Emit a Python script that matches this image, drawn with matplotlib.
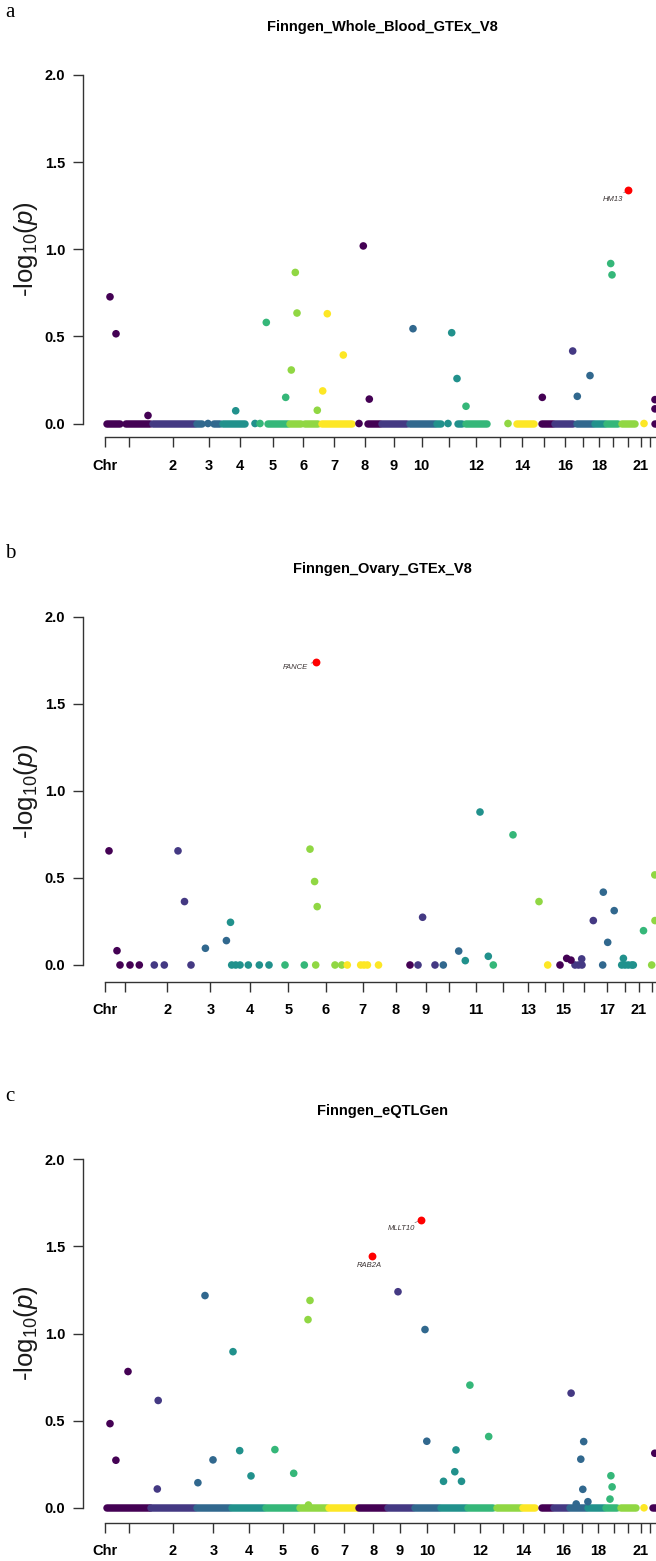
import matplotlib
matplotlib.use('Agg')
import matplotlib.pyplot as plt

plt.rcParams['font.family'] = ['Liberation Sans', 'DejaVu Sans']
plt.rcParams['mathtext.fontset'] = 'custom'
plt.rcParams['mathtext.rm'] = 'Liberation Sans'
plt.rcParams['mathtext.it'] = 'Liberation Sans:italic'

# x positions are cumulative plotting positions along the genome
chr_origin = 105

# ---------------- panel a : Finngen_Whole_Blood_GTEx_V8
a_chroms = list(range(1, 23))
a_ticks = [129, 173, 208.7, 240, 273, 303.3, 334, 364.8, 394, 421.7, 449.3,
           475.7, 500, 522.3, 544.3, 565, 582.7, 599, 613.3, 627.7, 641, 650.3]
a_labels = ['', '2', '3', '4', '5', '6', '7', '8', '9', '10', '', '12', '',
            '14', '', '16', '', '18', '', '', '21', '']
a_run_chr = [1, 1, 2, 3, 3, 4, 5, 6, 6, 7, 8, 9, 10, 11, 11, 12, 14, 15, 16,
             17, 18, 19, 20, 22]
a_run_from = [107, 126, 153, 197, 214, 223, 268, 290, 305, 322, 368, 382, 410,
              437, 458, 466, 517, 542, 555, 577, 595, 607, 622, 655]
a_run_to = [120, 150, 195, 202, 220, 245, 288, 301, 318, 352, 380, 407, 435,
            441, 462, 487, 534, 553, 573, 593, 605, 618, 635, 665]
a_pt_chr = [3, 4, 5, 8, 11, 13, 21,
            1, 1, 1, 4, 5, 5, 6, 6, 6, 6, 7, 7, 7, 8, 8, 10, 11, 11, 12, 15,
            16, 17, 17, 19, 19, 22, 22]
a_pt_pos = [208, 255, 260, 359, 448, 508, 644,
            110, 116, 148, 235.7, 266.3, 285.7, 291.3, 295.3, 297, 317.3,
            322.7, 327.3, 343.3, 363.3, 369.3, 413, 451.7, 457, 466, 542.3,
            572.7, 577.3, 590, 610.7, 612, 655, 655]
a_pt_val = [0, 0, 0, 0, 0, 0, 0,
            0.727, 0.515, 0.046, 0.073, 0.58, 0.15, 0.307, 0.867, 0.634, 0.076,
            0.187, 0.63, 0.393, 1.019, 0.14, 0.544, 0.521, 0.258, 0.099, 0.15,
            0.416, 0.156, 0.275, 0.918, 0.853, 0.137, 0.084]
a_lead_gene = ['HM13']
a_lead_pos = [628.3]
a_lead_val = [1.34]

# ---------------- panel b : Finngen_Ovary_GTEx_V8
b_chroms = list(range(1, 19)) + [21, 22]
b_ticks = [124.5, 167.3, 210.3, 250, 288.3, 325.7, 362.7, 396, 425.7, 449.3,
           475.7, 502.7, 527.7, 545, 563.3, 584.3, 606.7, 625, 638.5, 652]
b_labels = ['', '2', '3', '4', '5', '6', '7', '8', '9', '', '11', '', '13', '',
            '15', '', '17', '', '21', '']
b_run_chr = []
b_run_from = []
b_run_to = []
b_pt_chr = [1, 1, 1, 2, 2, 2, 4, 4, 4, 4, 4, 4, 5, 5, 6, 6, 6, 7, 7, 7, 7, 7,
            8, 9, 9, 10, 12, 14, 15, 16, 16, 16, 17, 18, 18, 18, 18, 18, 22,
            1, 1, 2, 2, 3, 3, 4, 6, 6, 6, 9, 10, 11, 11, 11, 12, 13, 15, 15,
            16, 16, 17, 17, 17, 18, 21, 22, 22]
b_pt_pos = [120, 130, 139.3, 154.3, 164.3, 191, 231.7, 235.7, 240, 248.3,
            259.3, 269, 285, 304.3, 315.7, 335, 341.7, 347.3, 360.7, 364,
            367.4, 378.5, 410, 418, 435, 443.3, 493.3, 547.7, 560, 575, 578.5,
            582, 602.7, 621.7, 625, 628.3, 631.7, 633.3, 651.7,
            109, 117, 178, 184.5, 205.4, 226.4, 230.5, 310, 314.6, 317.2,
            422.6, 458.7, 465.3, 480, 488.3, 513, 539, 566.7, 571, 581.7,
            593.3, 603.3, 607.7, 614.2, 623.4, 643.5, 654.8, 655]
b_pt_val = [0] * 39 + [
            0.655, 0.082, 0.655, 0.364, 0.096, 0.14, 0.245, 0.665, 0.479,
            0.335, 0.274, 0.08, 0.025, 0.878, 0.05, 0.747, 0.364, 0.038, 0.028,
            0.035, 0.255, 0.418, 0.13, 0.312, 0.038, 0.197, 0.517, 0.255]
b_lead_gene = ['FANCE']
b_lead_pos = [316]
b_lead_val = [1.741]

# ---------------- panel c : Finngen_eQTLGen
c_chroms = list(range(1, 23))
c_ticks = [129.3, 173, 213.3, 249.3, 282.7, 314.3, 344.3, 373.3, 400, 427.3,
           454.3, 480, 503.3, 523.3, 544.3, 563.3, 581.7, 598.3, 614, 628.3,
           641, 650]
c_labels = ['', '2', '3', '4', '5', '6', '7', '8', '9', '10', '', '12', '',
            '14', '', '16', '', '18', '', '', '21', '']
c_run_chr = list(range(1, 21)) + [22]
c_run_from = [107, 151, 197, 232, 266, 300, 329, 359, 388, 415, 441, 468, 497,
              523, 542, 554, 570, 588, 606, 621, 653]
c_run_to = [150, 195, 230, 264, 298, 327, 357, 386, 413, 439, 466, 493, 521,
            535, 552, 568, 586, 604, 617, 636, 665]
c_pt_chr = [21,
            1, 1, 1, 2, 2, 3, 3, 3, 4, 4, 4, 5, 5, 6, 6, 6, 9, 10, 10, 11, 11,
            11, 11, 12, 12, 16, 17, 17, 17, 17, 17, 19, 19, 19, 22]
c_pt_pos = [644,
            110, 115.9, 128, 158.2, 157.3, 197.9, 205, 213, 233, 239.7, 251,
            274.9, 293.7, 308.4, 308, 310, 398, 425, 426.8, 443.5, 454.8, 456,
            461.5, 469.9, 488.7, 571.1, 576.2, 580.8, 582.8, 583.7, 587.9, 610,
            610.9, 612.1, 654.8]
c_pt_val = [0,
            0.483, 0.273, 0.782, 0.616, 0.108, 0.144, 1.218, 0.275, 0.896,
            0.328, 0.183, 0.334, 0.198, 0.016, 1.08, 1.19, 1.24, 1.023, 0.382,
            0.152, 0.207, 0.332, 0.152, 0.704, 0.409, 0.658, 0.022, 0.279,
            0.106, 0.38, 0.035, 0.05, 0.184, 0.12, 0.313]
c_lead_gene = ['RAB2A', 'MLLT10']
c_lead_pos = [372, 421]
c_lead_val = [1.445, 1.652]

y_ticks = [0.0, 0.5, 1.0, 1.5, 2.0]

panels = [
    dict(letter='a', title='Finngen_Whole_Blood_GTEx_V8', chroms=a_chroms,
         ticks=a_ticks, labels=a_labels, run_chr=a_run_chr, run_from=a_run_from,
         run_to=a_run_to, pt_chr=a_pt_chr, pt_pos=a_pt_pos, pt_val=a_pt_val,
         genes=a_lead_gene, gpos=a_lead_pos, gval=a_lead_val,
         y0=423.5, y2=75.0, axis=437.3, offs=[(-3.5, -6.5, 'right')]),
    dict(letter='b', title='Finngen_Ovary_GTEx_V8', chroms=b_chroms,
         ticks=b_ticks, labels=b_labels, run_chr=b_run_chr, run_from=b_run_from,
         run_to=b_run_to, pt_chr=b_pt_chr, pt_pos=b_pt_pos, pt_val=b_pt_val,
         genes=b_lead_gene, gpos=b_lead_pos, gval=b_lead_val,
         y0=965.0, y2=616.5, axis=981.7, offs=[(-5.5, -4.5, 'right')]),
    dict(letter='c', title='Finngen_eQTLGen', chroms=c_chroms,
         ticks=c_ticks, labels=c_labels, run_chr=c_run_chr, run_from=c_run_from,
         run_to=c_run_to, pt_chr=c_pt_chr, pt_pos=c_pt_pos, pt_val=c_pt_val,
         genes=c_lead_gene, gpos=c_lead_pos, gval=c_lead_val,
         y0=1507.8, y2=1159.3, axis=1522.7,
         offs=[(-2, -6.5, 'center'), (-4.5, -6.5, 'right')]),
]

W, H = 656, 1561
pal = plt.get_cmap('viridis', 7)
fig = plt.figure(figsize=(W / 100, H / 100), dpi=100)

x_left, x_right = 82.7, 681.0
axis_col = '#333333'

for p in panels:
    scale = (p['y0'] - p['y2']) / 2.0
    ybot = -(p['axis'] - p['y0']) / scale
    ytop = 2.1
    top_px = p['y0'] - ytop * scale
    ax = fig.add_axes([x_left / W, 1 - p['axis'] / H,
                       (x_right - x_left) / W, (p['axis'] - top_px) / H])
    ax.set_xlim(x_left, x_right)
    ax.set_ylim(ybot, ytop)

    col = {c: pal(i % 7) for i, c in enumerate(p['chroms'])}

    for c, s, e in zip(p['run_chr'], p['run_from'], p['run_to']):
        ax.plot([s, e], [0, 0], color=col[c], lw=5.4, solid_capstyle='round',
                clip_on=False, zorder=2)
    ax.scatter(p['pt_pos'], p['pt_val'], s=30, c=[col[c] for c in p['pt_chr']],
               linewidths=0, clip_on=False, zorder=3)
    ax.scatter(p['gpos'], p['gval'], s=32, c='#ff0000', linewidths=0,
               clip_on=False, zorder=4)
    for g, x, y, (dx, dy, ha) in zip(p['genes'], p['gpos'], p['gval'], p['offs']):
        ax.annotate(g, (x, y), xytext=(dx, dy), textcoords='offset points',
                    ha=ha, va='center', fontsize=5.5, style='italic',
                    color='#3c3434',
                    arrowprops=dict(arrowstyle='-', color='#777777', lw=0.5,
                                    shrinkA=0, shrinkB=1.5))

    for sp in ['top', 'right']:
        ax.spines[sp].set_visible(False)
    ax.spines['left'].set_bounds(0, 2)
    ax.spines['bottom'].set_bounds(chr_origin, x_right)
    for sp in ['left', 'bottom']:
        ax.spines[sp].set_color(axis_col)
        ax.spines[sp].set_linewidth(1.0)

    ax.set_yticks(y_ticks)
    ax.set_yticklabels(['%.1f' % v for v in y_ticks], fontweight='bold',
                       fontsize=10.5)
    ax.set_xticks([chr_origin] + p['ticks'])
    ax.set_xticklabels(['Chr'] + p['labels'], fontweight='bold', fontsize=10.5)
    ax.tick_params(axis='y', length=7, width=1.0, color=axis_col, pad=5.5)
    ax.tick_params(axis='x', length=7, width=1.0, color=axis_col, pad=8.5)

    ax.text(25.5, 1.0, r'-log$_{10}$($\mathit{p}$)', rotation=90, ha='center',
            va='center', fontsize=18.5, color='#1a1a1a', clip_on=False)

    fig.text(382.5 / W, 1 - (p['y0'] - 396.5) / H, p['title'], ha='center',
             va='center', fontsize=10.5, fontweight='bold')
    fig.text(5 / W, 1 - (p['y0'] - 411) / H, p['letter'], ha='left',
             va='center', fontsize=15, family=['Liberation Serif'])

fig.savefig('out.png', dpi=100)
